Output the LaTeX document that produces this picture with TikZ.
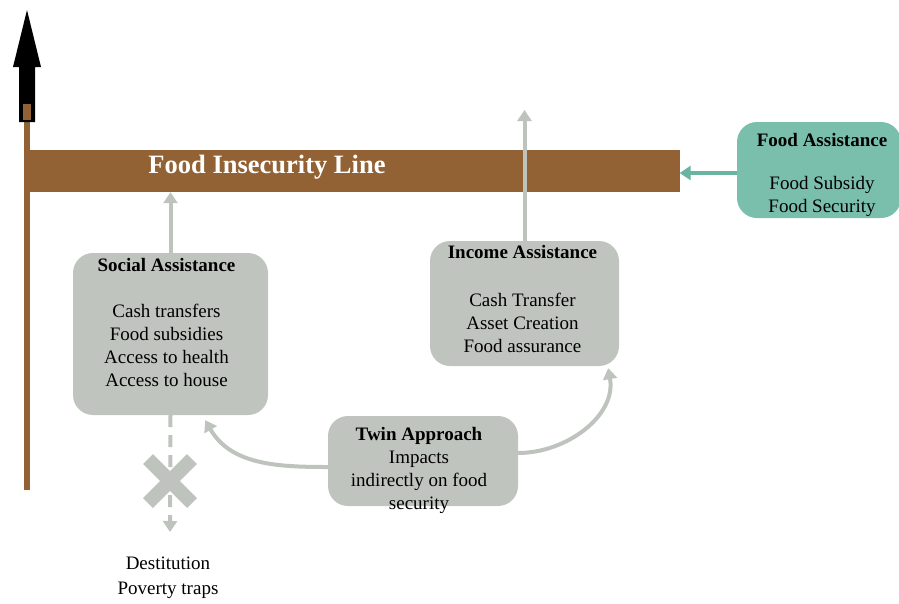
\documentclass[tikz,border=0pt]{standalone}
\usepackage{fontspec}
\setmainfont{Liberation Serif}
\usetikzlibrary{arrows.meta,shapes.misc,calc}

\definecolor{barbrown}{RGB}{146,98,52}
\definecolor{boxgray}{RGB}{192,196,190}
\definecolor{linegray}{RGB}{190,195,190}
\definecolor{foodteal}{RGB}{122,190,172}
\definecolor{tealline}{RGB}{104,180,160}

\tikzset{
    panel/.style={fill=boxgray, rounded corners=20pt, inner sep=0pt},
    paneltext/.style={align=center, anchor=north, inner sep=0pt, font=\fontsize{19}{23}\selectfont},
    grayarrow/.style={draw=linegray, line width=4pt, -{Triangle[width=14pt,length=11pt]}},
    tealarrow/.style={draw=tealline, line width=4pt, -{Triangle[width=14pt,length=11pt]}},
}

\begin{document}
\begin{tikzpicture}[x=1pt,y=1pt]
            \useasboundingbox (0,0) rectangle (899,-603);
            
            % vertical axis with the black arrow on top
            \draw[barbrown, line width=6pt] (27,-490) -- (27,-120);
            \fill[black] (19,-122) -- (19,-67) -- (13,-67) -- (27,-10) -- (41,-67) -- (35,-67) -- (35,-122) -- cycle;
            \fill[barbrown] (23,-104) rectangle (31,-120);
            
            \node[fill=barbrown, minimum width=651pt, minimum height=42pt, inner sep=0pt] (bar) at (354,-171) {};
            \node[text=white, inner sep=0pt, font=\bfseries\fontsize{26.5}{28}\selectfont] (barlabel) at (267,-167) {Food Insecurity Line};
            
            \node[panel, minimum width=195pt, minimum height=162pt] (social) at (170.5,-334) {};
            \node[paneltext] (socialtext) at ([xshift=-4pt,yshift=-5.5pt]social.north)
                {\textbf{Social Assistance}\\[23pt] Cash transfers\\ Food subsidies\\ Access to health\\ Access to house};
            
            \node[panel, minimum width=189pt, minimum height=125pt] (income) at (524.5,-303.5) {};
            \node[paneltext] (incometext) at ([xshift=-2pt,yshift=-4.5pt]income.north)
                {\textbf{Income Assistance}\\[25pt] Cash Transfer\\ Asset Creation\\ Food assurance};
            
            \node[panel, fill=foodteal, minimum width=164pt, minimum height=96pt] (food) at (819,-170) {};
            \node[paneltext] (foodtext) at ([xshift=3pt,yshift=-11.5pt]food.north)
                {\textbf{Food Assistance}\\[20pt] Food Subsidy\\ Food Security};
            
            \node[panel, minimum width=190pt, minimum height=90pt] (twin) at (423,-461) {};
            \node[paneltext] (twintext) at ([xshift=-4pt,yshift=-11.5pt]twin.north)
                {\textbf{Twin Approach}\\ Impacts\\ indirectly on food\\ security};
            
            \node[align=center, inner sep=0pt, font=\fontsize{19}{25}\selectfont] (dest) at (168,-578) {Destitution\\ Poverty traps};
            
            \coordinate (incomehead) at (524.5,-110);
            \coordinate (desthead) at (170,-532);
            \coordinate (socialtip) at ($(social.south east)+(-63,-5)$);
            \coordinate (incometip) at ($(income.south east)+(-11,-2)$);
            
            \draw[grayarrow] (social.north) -- (social.north |- bar.south);
            \draw[grayarrow] (income.north) -- (incomehead);
            \draw[tealarrow] ([yshift=-3pt]food.west) -- ([yshift=-3pt]food.west -| bar.east);
            \draw[grayarrow] ([yshift=-6pt]twin.west) to[out=180,in=-60] (socialtip);
            \draw[grayarrow] ([yshift=8pt]twin.east) to[out=0,in=-80] (incometip);
            
            \draw[grayarrow, dash pattern=on 12pt off 8pt] (social.south) -- (desthead);
            \node[cross out, draw=linegray, line width=14pt, minimum size=44pt, inner sep=0pt, outer sep=0pt] (cross) at (170,-481) {};
        \end{tikzpicture}
\end{document}
